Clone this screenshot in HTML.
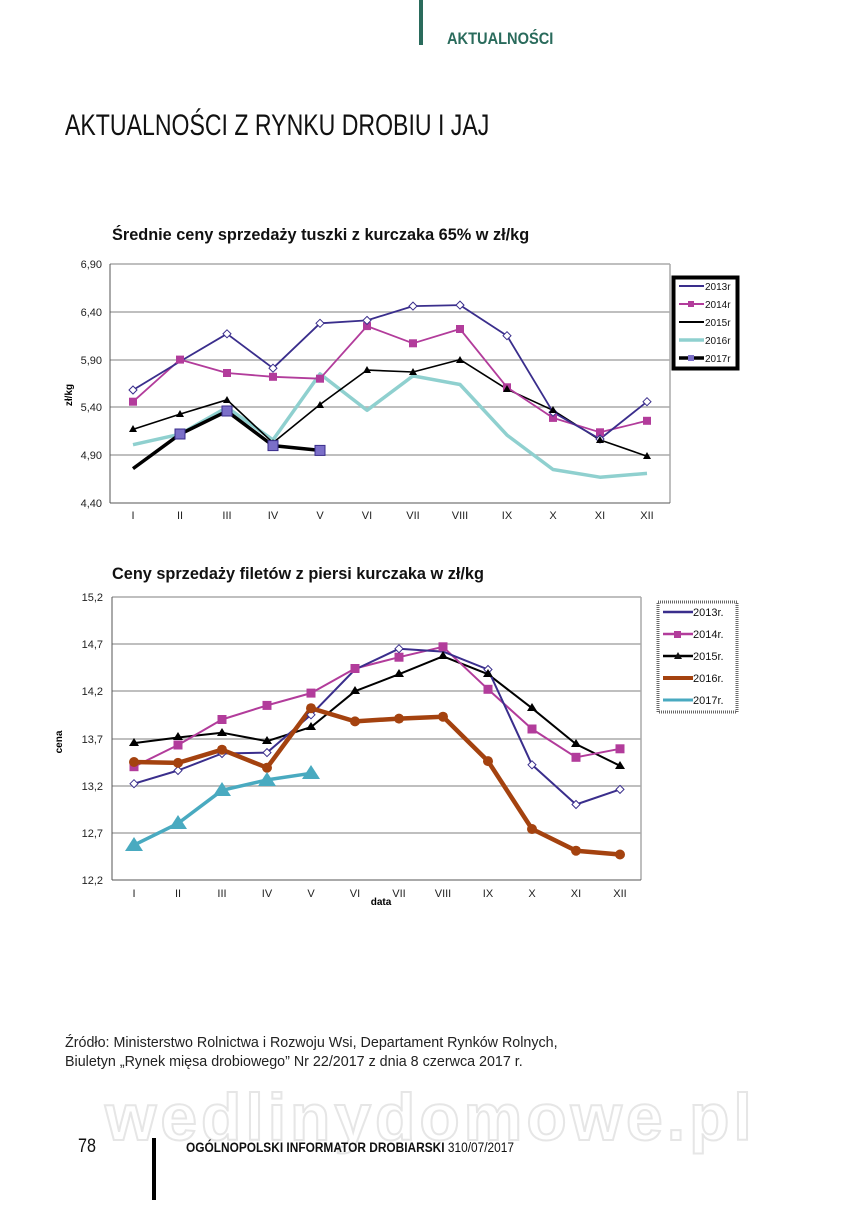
<!DOCTYPE html>
<html><head><meta charset="utf-8"><style>
html,body{margin:0;padding:0;background:#fff}
body{width:843px;height:1200px;position:relative;overflow:hidden;font-family:"Liberation Sans",sans-serif}
</style></head><body>
<svg width="843" height="1200" viewBox="0 0 843 1200" xmlns="http://www.w3.org/2000/svg" font-family="Liberation Sans, sans-serif">
<!-- header -->
<rect x="419" y="0" width="4" height="45" fill="#2a6b5c"/>
<text x="447" y="44" font-size="17" font-weight="bold" fill="#2a6b5c" transform="translate(447,0) scale(0.86,1) translate(-447,0)">AKTUALNOŚCI</text>
<text x="65" y="135" font-size="30" fill="#111" transform="translate(65,0) scale(0.77,1) translate(-65,0)">AKTUALNOŚCI Z RYNKU DROBIU I JAJ</text>

<!-- chart 1 -->
<text x="112" y="240" font-size="16.3" font-weight="bold" fill="#111">Średnie ceny sprzedaży tuszki z kurczaka 65% w zł/kg</text>
<g stroke="#aaa" stroke-width="1.5">
<line x1="110" y1="264" x2="670" y2="264"/><line x1="110" y1="312" x2="670" y2="312"/>
<line x1="110" y1="360" x2="670" y2="360"/><line x1="110" y1="407" x2="670" y2="407"/>
<line x1="110" y1="455" x2="670" y2="455"/>
<line x1="670" y1="264" x2="670" y2="503"/>
</g>
<g stroke="#555" stroke-width="1"><line x1="110" y1="264" x2="110" y2="503"/><line x1="110" y1="503" x2="670" y2="503"/></g>
<g font-size="11" fill="#222" text-anchor="end">
<text x="102" y="268">6,90</text><text x="102" y="316">6,40</text><text x="102" y="364">5,90</text><text x="102" y="411">5,40</text><text x="102" y="459">4,90</text><text x="102" y="507">4,40</text>
</g>
<text x="72" y="395" font-size="10" font-weight="bold" transform="rotate(-90 72 395)" text-anchor="middle">zł/kg</text>
<g font-size="11" fill="#222" text-anchor="middle">
<text x="133" y="519">I</text><text x="180" y="519">II</text><text x="227" y="519">III</text><text x="273" y="519">IV</text><text x="320" y="519">V</text><text x="367" y="519">VI</text><text x="413" y="519">VII</text><text x="460" y="519">VIII</text><text x="507" y="519">IX</text><text x="553" y="519">X</text><text x="600" y="519">XI</text><text x="647" y="519">XII</text>
</g>
<g fill="none" stroke-linejoin="round">
<polyline stroke="#8fd0cf" stroke-width="3.5" points="133,444.7 180,434.2 227,407.4 273,439.9 320,373.9 367,410.3 413,375.9 460,384.5 507,435.1 553,469.5 600,477.2 647,473.4"/>
<polyline stroke="#000" stroke-width="1.6" points="133,429.4 180,414.1 227,399.8 273,442.8 320,404.5 367,370.1 413,372 460,359.6 507,389.2 553,410.3 600,439.9 647,456.2"/>
<polyline stroke="#b23c9b" stroke-width="1.8" points="133,401.7 180,359.6 227,373 273,376.8 320,378.7 367,326.1 413,343.3 460,329 507,387.3 553,417.9 600,432.3 647,420.8"/>
<polyline stroke="#3a2e8c" stroke-width="1.8" points="133,390 180,361.5 227,333.8 273,368.2 320,323.3 367,320.4 413,306.1 460,305.1 507,335.7 553,412.2 600,439 647,401.7"/>
<polyline stroke="#000" stroke-width="3.5" points="133,468.6 180,434.2 227,411.2 273,445.6 320,450.4"/>
</g>
<g fill="#b23c9b">
<rect x="129" y="397.7" width="8" height="8"/><rect x="176" y="355.6" width="8" height="8"/><rect x="223" y="369" width="8" height="8"/><rect x="269" y="372.8" width="8" height="8"/><rect x="316" y="374.7" width="8" height="8"/><rect x="363" y="322.1" width="8" height="8"/><rect x="409" y="339.3" width="8" height="8"/><rect x="456" y="325" width="8" height="8"/><rect x="503" y="383.3" width="8" height="8"/><rect x="549" y="413.9" width="8" height="8"/><rect x="596" y="428.3" width="8" height="8"/><rect x="643" y="416.8" width="8" height="8"/>
</g>
<g fill="#fff" stroke="#3a2e8c" stroke-width="1">
<path d="M133 386l4 4-4 4-4-4z"/><path d="M227 329.8l4 4-4 4-4-4z"/><path d="M273 364.2l4 4-4 4-4-4z"/><path d="M320 319.3l4 4-4 4-4-4z"/><path d="M367 316.4l4 4-4 4-4-4z"/><path d="M413 302.1l4 4-4 4-4-4z"/><path d="M460 301.1l4 4-4 4-4-4z"/><path d="M507 331.7l4 4-4 4-4-4z"/><path d="M553 408.2l4 4-4 4-4-4z"/><path d="M600 435l4 4-4 4-4-4z"/><path d="M647 397.7l4 4-4 4-4-4z"/>
</g>
<g fill="#000">
<path d="M133 425l4 7h-8z"/><path d="M180 410l4 7h-8z"/><path d="M227 396l4 7h-8z"/><path d="M273 439l4 7h-8z"/><path d="M320 401l4 7h-8z"/><path d="M367 366l4 7h-8z"/><path d="M413 368l4 7h-8z"/><path d="M460 356l4 7h-8z"/><path d="M507 385l4 7h-8z"/><path d="M553 406l4 7h-8z"/><path d="M600 436l4 7h-8z"/><path d="M647 452l4 7h-8z"/>
</g>
<g fill="#7b6fc8" stroke="#3a2e8c">
<rect x="175" y="429" width="10" height="10"/><rect x="222" y="406" width="10" height="10"/><rect x="268" y="440.6" width="10" height="10"/><rect x="315" y="445.4" width="10" height="10"/>
</g>
<rect x="673.5" y="277.5" width="64" height="91" fill="#fff" stroke="#000" stroke-width="4"/>
<g font-size="10" fill="#111">
<line x1="679" y1="286" x2="704" y2="286" stroke="#3a2e8c" stroke-width="2"/><text x="705" y="290">2013r</text>
<line x1="679" y1="304" x2="704" y2="304" stroke="#b23c9b" stroke-width="2"/><rect x="688" y="301" width="6" height="6" fill="#b23c9b"/><text x="705" y="308">2014r</text>
<line x1="679" y1="322" x2="704" y2="322" stroke="#000" stroke-width="2"/><text x="705" y="326">2015r</text>
<line x1="679" y1="340" x2="704" y2="340" stroke="#8fd0cf" stroke-width="3.5"/><text x="705" y="344">2016r</text>
<line x1="679" y1="358" x2="704" y2="358" stroke="#000" stroke-width="3.5"/><rect x="688" y="355" width="6" height="6" fill="#7b6fc8"/><text x="705" y="362">2017r</text>
</g>

<!-- chart 2 -->
<text x="112" y="579" font-size="16.3" font-weight="bold" fill="#111">Ceny sprzedaży filetów z piersi kurczaka w zł/kg</text>
<g stroke="#aaa" stroke-width="1.5">
<line x1="112" y1="597" x2="641" y2="597"/><line x1="112" y1="644" x2="641" y2="644"/>
<line x1="112" y1="691" x2="641" y2="691"/><line x1="112" y1="739" x2="641" y2="739"/>
<line x1="112" y1="786" x2="641" y2="786"/><line x1="112" y1="833" x2="641" y2="833"/>
<line x1="641" y1="597" x2="641" y2="880"/>
</g>
<g stroke="#555" stroke-width="1"><line x1="112" y1="597" x2="112" y2="880"/><line x1="112" y1="880" x2="641" y2="880"/></g>
<g font-size="11" fill="#222" text-anchor="end">
<text x="103" y="601">15,2</text><text x="103" y="648">14,7</text><text x="103" y="695">14,2</text><text x="103" y="743">13,7</text><text x="103" y="790">13,2</text><text x="103" y="837">12,7</text><text x="103" y="884">12,2</text>
</g>
<text x="62" y="742" font-size="10" font-weight="bold" transform="rotate(-90 62 742)" text-anchor="middle">cena</text>
<g font-size="11" fill="#222" text-anchor="middle">
<text x="134" y="897">I</text><text x="178" y="897">II</text><text x="222" y="897">III</text><text x="267" y="897">IV</text><text x="311" y="897">V</text><text x="355" y="897">VI</text><text x="399" y="897">VII</text><text x="443" y="897">VIII</text><text x="488" y="897">IX</text><text x="532" y="897">X</text><text x="576" y="897">XI</text><text x="620" y="897">XII</text>
</g>
<text x="381" y="905" font-size="10" font-weight="bold" text-anchor="middle">data</text>
<g fill="none" stroke-linejoin="round">
<polyline stroke="#000" stroke-width="2" points="134,743.1 178,737.5 222,732.7 267,741.2 311,727.1 355,691.2 399,674.2 443,656.3 488,674.2 532,708.2 576,744.1 620,765.8"/>
<polyline stroke="#b23c9b" stroke-width="2" points="134,766.7 178,745 222,719.5 267,705.4 311,693.1 355,668.5 399,657.2 443,646.8 488,689.3 532,729 576,757.3 620,748.8"/>
<polyline stroke="#3a2e8c" stroke-width="2" points="134,783.7 178,770.5 222,753.5 267,752.6 311,714.8 355,669.5 399,648.7 443,651.6 488,669.5 532,764.8 576,804.5 620,789.4"/>
<polyline stroke="#a4420f" stroke-width="4.5" points="134,762 178,762.9 222,749.7 267,767.7 311,708.2 355,721.4 399,718.6 443,716.7 488,761.1 532,829 576,850.7 620,854.5"/>
<polyline stroke="#49aac0" stroke-width="3.5" points="134,845.1 178,823.4 222,790.3 267,779.9 311,773.3"/>
</g>
<g fill="#b23c9b">
<rect x="129.5" y="762.2" width="9" height="9"/><rect x="173.5" y="740.5" width="9" height="9"/><rect x="217.5" y="715" width="9" height="9"/><rect x="262.5" y="700.9" width="9" height="9"/><rect x="306.5" y="688.6" width="9" height="9"/><rect x="350.5" y="664" width="9" height="9"/><rect x="394.5" y="652.7" width="9" height="9"/><rect x="438.5" y="642.3" width="9" height="9"/><rect x="483.5" y="684.8" width="9" height="9"/><rect x="527.5" y="724.5" width="9" height="9"/><rect x="571.5" y="752.8" width="9" height="9"/><rect x="615.5" y="744.3" width="9" height="9"/>
</g>
<g fill="#fff" stroke="#3a2e8c" stroke-width="1">
<path d="M134 779.7l4 4-4 4-4-4z"/><path d="M178 766.5l4 4-4 4-4-4z"/><path d="M222 749.5l4 4-4 4-4-4z"/><path d="M267 748.6l4 4-4 4-4-4z"/><path d="M311 710.8l4 4-4 4-4-4z"/><path d="M399 644.7l4 4-4 4-4-4z"/><path d="M488 665.5l4 4-4 4-4-4z"/><path d="M532 760.8l4 4-4 4-4-4z"/><path d="M576 800.5l4 4-4 4-4-4z"/><path d="M620 785.4l4 4-4 4-4-4z"/>
</g>
<g fill="#000">
<path d="M134 738l5 8h-10z"/><path d="M178 732l5 8h-10z"/><path d="M222 728l5 8h-10z"/><path d="M267 736l5 8h-10z"/><path d="M311 722l5 8h-10z"/><path d="M355 686l5 8h-10z"/><path d="M399 669l5 8h-10z"/><path d="M443 651l5 8h-10z"/><path d="M488 669l5 8h-10z"/><path d="M532 703l5 8h-10z"/><path d="M576 739l5 8h-10z"/><path d="M620 761l5 8h-10z"/>
</g>
<g fill="#a4420f">
<circle cx="134" cy="762" r="5"/><circle cx="178" cy="762.9" r="5"/><circle cx="222" cy="749.7" r="5"/><circle cx="267" cy="767.7" r="5"/><circle cx="311" cy="708.2" r="5"/><circle cx="355" cy="721.4" r="5"/><circle cx="399" cy="718.6" r="5"/><circle cx="443" cy="716.7" r="5"/><circle cx="488" cy="761.1" r="5"/><circle cx="532" cy="829" r="5"/><circle cx="576" cy="850.7" r="5"/><circle cx="620" cy="854.5" r="5"/>
</g>
<g fill="#49aac0">
<path d="M134 837l9 14h-18z"/><path d="M178 815l9 14h-18z"/><path d="M222 782l9 14h-18z"/><path d="M267 772l9 14h-18z"/><path d="M311 765l9 14h-18z"/>
</g>
<rect x="658" y="602" width="79" height="110" fill="#fff" stroke="#666" stroke-width="3" stroke-dasharray="1 1"/>
<g font-size="11" fill="#111">
<line x1="663" y1="612" x2="693" y2="612" stroke="#3a2e8c" stroke-width="2.5"/><text x="693" y="616">2013r.</text>
<line x1="663" y1="634" x2="693" y2="634" stroke="#b23c9b" stroke-width="2.5"/><rect x="674" y="631" width="7" height="7" fill="#b23c9b"/><text x="693" y="638">2014r.</text>
<line x1="663" y1="656" x2="693" y2="656" stroke="#000" stroke-width="2.5"/><path d="M678 652l4 7h-8z"/><text x="693" y="660">2015r.</text>
<line x1="663" y1="678" x2="693" y2="678" stroke="#a4420f" stroke-width="4"/><text x="693" y="682">2016r.</text>
<line x1="663" y1="700" x2="693" y2="700" stroke="#49aac0" stroke-width="3"/><text x="693" y="704">2017r.</text>
</g>

<!-- footer -->
<text x="65" y="1047" font-size="14.3" fill="#222">Źródło: Ministerstwo Rolnictwa i Rozwoju Wsi, Departament Rynków Rolnych,</text>
<text x="65" y="1066" font-size="14.3" fill="#222">Biuletyn „Rynek mięsa drobiowego” Nr 22/2017 z dnia 8 czerwca 2017 r.</text>
<text x="105" y="1140" font-size="66" font-weight="bold" fill="#fff" stroke="#e6e6e6" stroke-width="2" letter-spacing="4">wedlinydomowe.pl</text>
<text x="78" y="1152" font-size="19" fill="#111" transform="translate(78,0) scale(0.85,1) translate(-78,0)">78</text>
<rect x="152" y="1138" width="4" height="62" fill="#000"/>
<text x="186" y="1152" font-size="14" font-weight="bold" fill="#111" transform="translate(186,0) scale(0.85,1) translate(-186,0)">OGÓLNOPOLSKI INFORMATOR DROBIARSKI <tspan font-weight="normal">310/07/2017</tspan></text>
</svg>
</body></html>
